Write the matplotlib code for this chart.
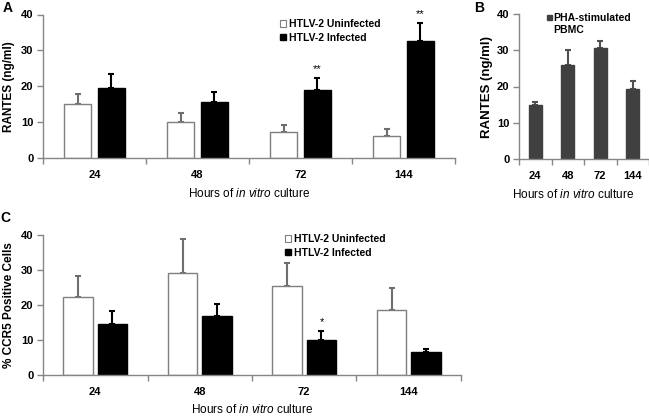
import matplotlib
matplotlib.use("Agg")
import matplotlib.pyplot as plt
from matplotlib.patches import Patch, Rectangle
import numpy as np

plt.rcParams['font.family'] = ['Liberation Sans', 'DejaVu Sans']
plt.rcParams['mathtext.fontset'] = 'custom'
plt.rcParams['mathtext.it'] = 'Liberation Sans:italic'
plt.rcParams['mathtext.rm'] = 'Liberation Sans'

# ---------------- data ----------------
hours = ["24", "48", "72", "144"]

# Panel A: RANTES (ng/ml)
a_uninf = [15.0, 10.0, 7.2, 6.2]
a_uninf_err = [2.8, 2.5, 1.9, 1.9]
a_inf = [19.4, 15.6, 18.9, 32.7]
a_inf_err = [3.9, 2.9, 3.3, 4.9]
a_stars = ["", "", "**", "**"]

# Panel B: PHA-stimulated PBMC RANTES (ng/ml)
b_pha = [14.8, 25.8, 30.7, 19.3]
b_pha_err = [0.9, 4.4, 1.9, 2.3]

# Panel C: % CCR5 positive cells
c_uninf = [22.2, 29.1, 25.3, 18.7]
c_uninf_err = [6.1, 9.7, 6.7, 6.3]
c_inf = [14.7, 17.0, 10.1, 6.7]
c_inf_err = [3.5, 3.4, 2.5, 0.6]
c_stars = ["", "", "*", ""]

W, H = 649, 417
fig = plt.figure(figsize=(W / 100, H / 100), dpi=100)

def ax_px(x0, y0, x1, y1):
    return fig.add_axes([x0 / W, 1 - y1 / H, (x1 - x0) / W, (y1 - y0) / H])

AXC = '#868686'
XLAB = r"Hours of $\it{in\ vitro}$ culture"

def style(ax, n):
    for s in ['top', 'right']:
        ax.spines[s].set_visible(False)
    for s in ['left', 'bottom']:
        ax.spines[s].set_color(AXC)
        ax.spines[s].set_linewidth(1.0)
    ax.set_xlim(-0.5, n - 0.5)
    ax.set_ylim(0, 40)
    ax.set_yticks([0, 10, 20, 30, 40])
    ax.tick_params(axis='y', length=4, width=1, color=AXC, pad=3, labelsize=8)
    ax.set_xticks(np.arange(n))
    ax.set_xticklabels(hours)
    ax.tick_params(axis='x', length=0, pad=8.5, labelsize=8)
    ax.set_xticks(np.arange(n + 1) - 0.5, minor=True)
    ax.tick_params(axis='x', which='minor', length=4, width=1, color=AXC)
    for lab in ax.get_xticklabels() + ax.get_yticklabels():
        lab.set_fontweight('bold')

def grouped(ax, uninf, uerr, inf, ierr, stars, bw, off):
    x = np.arange(len(hours))
    ax.bar(x - off, uninf, bw, color='white', edgecolor='#7f7f7f', linewidth=1.0, zorder=2)
    ax.bar(x + off, inf, bw, color='black', edgecolor='black', linewidth=1.0, zorder=2)
    ax.errorbar(x - off, uninf, yerr=[np.zeros(len(uerr)), uerr], fmt='none',
                ecolor='#6e6e6e', elinewidth=1.5, capsize=2, capthick=1.5, zorder=1)
    ax.errorbar(x + off, inf, yerr=[np.zeros(len(ierr)), ierr], fmt='none',
                ecolor='black', elinewidth=1.5, capsize=2, capthick=1.5, zorder=1)
    for xi, m, e, s in zip(x, inf, ierr, stars):
        if s:
            ax.text(xi + off, m + e + 1.2, s, ha='center', va='bottom', fontsize=8,
                    clip_on=False)

def two_legend(ax, x, y):
    ax.legend(handles=[Patch(facecolor='white', edgecolor='#7f7f7f', linewidth=0.8),
                       Patch(facecolor='black', edgecolor='black')],
              labels=["HTLV-2 Uninfected", "HTLV-2 Infected"],
              loc='upper left', bbox_to_anchor=(x / W, 1 - y / H), bbox_transform=fig.transFigure,
              frameon=False, prop={'weight': 'bold', 'size': 7.5},
              handlelength=0.6, handleheight=0.6, handletextpad=0.25, labelspacing=0.35,
              borderpad=0, borderaxespad=0)

# ---------------- Panel A ----------------
axA = ax_px(43, 14.5, 455, 158)
style(axA, 4)
grouped(axA, a_uninf, a_uninf_err, a_inf, a_inf_err, a_stars, 0.27, 0.165)
axA.set_ylabel("RANTES (ng/ml)", fontsize=8.5, fontweight='bold', labelpad=4)
axA.set_xlabel(XLAB, fontsize=8.5, labelpad=5)
two_legend(axA, 280, 19)

# ---------------- Panel B ----------------
axB = ax_px(519, 14, 649, 159)
style(axB, 4)
xb = np.arange(len(hours))
axB.bar(xb, b_pha, 0.4, color='#404040', edgecolor='#404040', zorder=2)
axB.errorbar(xb, b_pha, yerr=[np.zeros(len(b_pha_err)), b_pha_err], fmt='none',
             ecolor='#505050', elinewidth=1.5, capsize=2, capthick=1.5, zorder=1)
axB.set_ylabel("RANTES (ng/ml)", fontsize=9.5, fontweight='bold', labelpad=3)
axB.set_xlabel(XLAB, fontsize=8.5, labelpad=5)
axB.xaxis.label.set_x((573 - 519) / 130)
# legend for B (single entry, two-line label)
fig.patches.append(Rectangle((547 / W, 1 - 19.5 / H), 4.5 / W, 4.5 / H, transform=fig.transFigure,
                             facecolor='#404040', edgecolor='#404040', figure=fig))
fig.text(553 / W, 1 - 18 / H, "PHA-stimulated", fontsize=7.5, fontweight='bold', va='center', ha='left')
fig.text(553 / W, 1 - 30 / H, "PBMC", fontsize=7.5, fontweight='bold', va='center', ha='left')

# ---------------- Panel C ----------------
axC = ax_px(43, 235, 461, 375)
style(axC, 4)
grouped(axC, c_uninf, c_uninf_err, c_inf, c_inf_err, c_stars, 0.28, 0.165)
axC.set_ylabel("% CCR5 Positive Cells", fontsize=8.5, fontweight='bold', labelpad=4)
axC.set_xlabel(XLAB, fontsize=8.5, labelpad=4.5)
two_legend(axC, 285, 234)

# panel letters
fig.text(3 / W, 1 - 1 / H, "A", fontsize=10, fontweight='bold', va='top', ha='left')
fig.text(474 / W, 1 - 1 / H, "B", fontsize=10, fontweight='bold', va='top', ha='left')
fig.text(0 / W, 1 - 211 / H, "C", fontsize=10, fontweight='bold', va='top', ha='left')

fig.savefig("out.png", dpi=100)
